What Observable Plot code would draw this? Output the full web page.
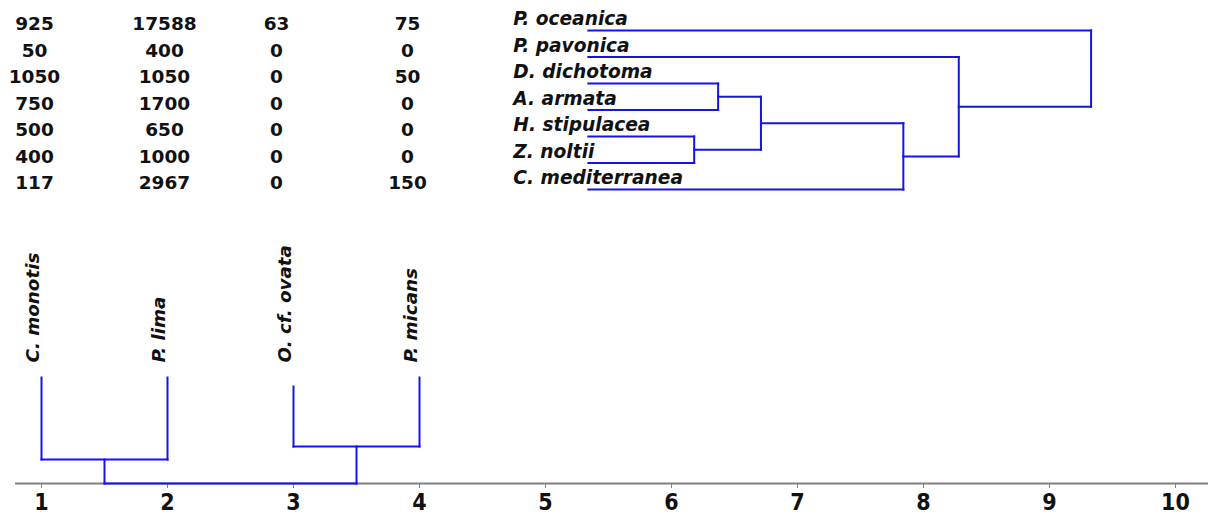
<!DOCTYPE html>
<html><head><meta charset="utf-8">
<script src="https://cdn.jsdelivr.net/npm/d3@7"></script>
<script src="https://cdn.jsdelivr.net/npm/@observablehq/plot@0.6"></script>
<style>
body{margin:0;background:#fff;}
#chart svg{display:block;}
#chart g[aria-label="x-axis tick label"] text{font-family:'DejaVu Sans Condensed','DejaVu Sans',sans-serif;font-stretch:condensed;}
</style></head><body><div id="chart"></div>
<script>
// Rows: macrophyte hosts (top dendrogram leaves, top to bottom)
const macrophytes = ["P. oceanica", "P. pavonica", "D. dichotoma", "A. armata", "H. stipulacea", "Z. noltii", "C. mediterranea"];
// Columns: dinoflagellates (bottom dendrogram leaves, left to right)
const dinoflagellates = ["C. monotis", "P. lima", "O. cf. ovata", "P. micans"];
// Table values per dinoflagellate column, one per macrophyte row
const cMonotisValues = [925, 50, 1050, 750, 500, 400, 117];
const pLimaValues = [17588, 400, 1050, 1700, 650, 1000, 2967];
const oOvataValues = [63, 0, 0, 0, 0, 0, 0];
const pMicansValues = [75, 0, 50, 0, 0, 0, 150];
// Macrophyte dendrogram: leaf base and merges [childA, childB, distance] (numbers = earlier merge index)
const macroLeafBase = 5.34;
const macroMerges = [
  ["D. dichotoma", "A. armata", 6.37],
  ["H. stipulacea", "Z. noltii", 6.18],
  [0, 1, 6.71],
  [2, "C. mediterranea", 7.84],
  [3, "P. pavonica", 8.28],
  [4, "P. oceanica", 9.33]
];
// Dinoflagellate dendrogram: leaf levels and merges [childA, childB, level]
const dinoLeafLevels = [1, 1, 0.915, 1];
const dinoMerges = [
  ["C. monotis", "P. lima", 0.226],
  ["O. cf. ovata", "P. micans", 0.349],
  [0, 1, 0]
];
const xTicks = [1, 2, 3, 4, 5, 6, 7, 8, 9, 10];

const FONT = "'DejaVu Sans', sans-serif";
const BLUE = "#1414e6";
const INK = "#111";

const columns = [cMonotisValues, pLimaValues, oOvataValues, pMicansValues];
const columnShift = [-7, -3, -17, -12];

// Top dendrogram segments
const topNodes = [];
const topPos = k => typeof k === "number" ? topNodes[k] : {x: macroLeafBase, y: macrophytes.indexOf(k)};
const topSegs = [];
macroMerges.forEach(([a, b, h]) => {
  const A = topPos(a), B = topPos(b);
  topSegs.push({x1: A.x, y1: A.y, x2: h, y2: A.y}, {x1: B.x, y1: B.y, x2: h, y2: B.y}, {x1: h, y1: A.y, x2: h, y2: B.y});
  topNodes.push({x: h, y: (A.y + B.y) / 2});
});

// Bottom dendrogram segments
const botNodes = [];
const botPos = k => {
  if (typeof k === "number") return botNodes[k];
  const i = dinoflagellates.indexOf(k);
  return {x: i + 1, y: dinoLeafLevels[i]};
};
const botSegs = [];
dinoMerges.forEach(([a, b, h]) => {
  const A = botPos(a), B = botPos(b);
  botSegs.push({x1: A.x, y1: A.y, x2: A.x, y2: h}, {x1: B.x, y1: B.y, x2: B.x, y2: h}, {x1: A.x, y1: h, x2: B.x, y2: h});
  botNodes.push({x: (A.x + B.x) / 2, y: h});
});

const common = {width: 1208, marginLeft: 41, marginRight: 33, style: {fontFamily: FONT, background: "#fff", color: INK}};

const tableMarks = columns.map((col, j) =>
  Plot.text(col, {x: () => j + 1, y: (d, i) => i, text: d => String(d), dx: columnShift[j], dy: -6,
    fontSize: 18.5, fontWeight: "bold", fill: INK}));

const topChart = Plot.plot({
  ...common,
  height: 200, marginTop: 30, marginBottom: 11,
  x: {domain: [1, 10], axis: null},
  y: {domain: [0, 6], reverse: true, axis: null},
  marks: [
    ...tableMarks,
    Plot.text(macrophytes, {x: () => macroLeafBase, y: (d, i) => i, text: d => d, textAnchor: "start", dx: -75, dy: -11,
      fontSize: 18.6, fontWeight: "bold", fontStyle: "italic", fill: INK}),
    Plot.link(topSegs, {x1: "x1", y1: "y1", x2: "x2", y2: "y2", stroke: BLUE, strokeWidth: 2, strokeLinecap: "square"})
  ]
});

const bottomChart = Plot.plot({
  ...common,
  height: 315, marginTop: 177, marginBottom: 32,
  x: {domain: [1, 10], axis: null},
  y: {domain: [0, 1], axis: null},
  marks: [
    Plot.ruleY([0], {stroke: "#808080", strokeWidth: 2, insetLeft: -26, insetRight: -33}),
    Plot.axisX({ticks: xTicks, tickSize: 5, tickPadding: 5, tickFormat: d => String(d), fontSize: 23, fontWeight: "bold",
      stroke: "#808080", fill: INK}),
    Plot.link(botSegs, {x1: "x1", y1: "y1", x2: "x2", y2: "y2", stroke: BLUE, strokeWidth: 2, strokeLinecap: "square"}),
    Plot.text(dinoflagellates, {x: (d, i) => i + 1, frameAnchor: "top", text: d => d, rotate: -90, textAnchor: "start",
      dx: -16, dy: -15, fontSize: 18.3, fontWeight: "bold", fontStyle: "italic", fill: INK})
  ]
});

const host = document.getElementById("chart");
host.appendChild(topChart);
host.appendChild(bottomChart);
</script>
</body></html>
